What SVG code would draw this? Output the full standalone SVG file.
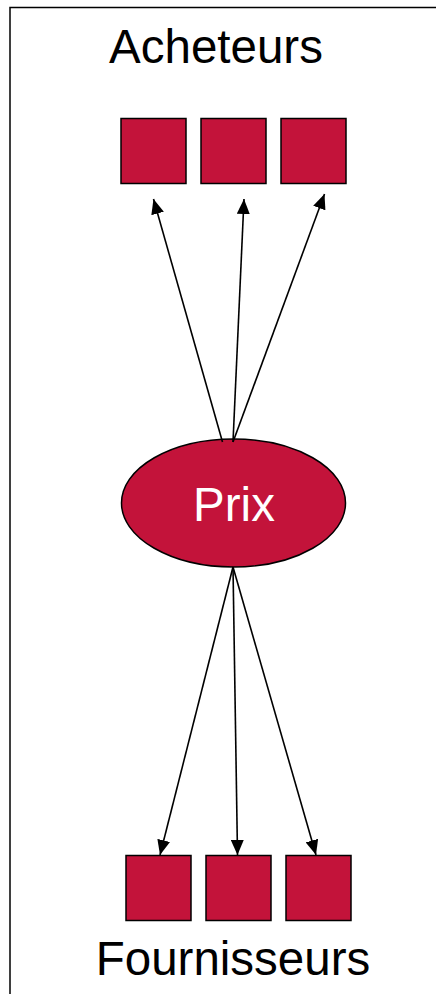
<svg xmlns="http://www.w3.org/2000/svg" width="436" height="994" viewBox="0 0 436 994">
<defs>
<style>
.box{fill:#C3133A;stroke:#000;stroke-width:1.5}
.lbl{font-family:"Liberation Sans",Arial,sans-serif;font-size:47.5px;text-anchor:middle}
.edge{stroke:#000;stroke-width:1.6;fill:none;marker-end:url(#ah)}
</style>
<marker id="ah" viewBox="0 0 15 13" refX="15" refY="6.5" markerWidth="15" markerHeight="13" markerUnits="userSpaceOnUse" orient="auto">
<path d="M0,0 L15,6.5 L0,13 Z" fill="#000"/>
</marker>
</defs>
<rect width="436" height="994" fill="#fff"/>
<g id="frame">
<path d="M10,994 V7.5 H436" fill="none" stroke="#000" stroke-width="1.5"/>
</g>
<g id="acheteurs-label"><text class="lbl" x="216" y="63">Acheteurs</text></g>
<g id="a1"><rect class="box" x="121" y="118.5" width="65" height="65"/></g>
<g id="a2"><rect class="box" x="201" y="118.5" width="65" height="65"/></g>
<g id="a3"><rect class="box" x="281" y="118.5" width="65" height="65"/></g>
<g id="prix">
<ellipse class="box" cx="233.5" cy="503" rx="112" ry="64"/>
<text class="lbl" x="234" y="521" fill="#fff">Prix</text>
</g>
<g id="f1"><rect class="box" x="126" y="855.5" width="65" height="65"/></g>
<g id="f2"><rect class="box" x="206" y="855.5" width="65" height="65"/></g>
<g id="f3"><rect class="box" x="286" y="855.5" width="65" height="65"/></g>
<g id="fournisseurs-label"><text class="lbl" x="233" y="975">Fournisseurs</text></g>
<g id="connectors">
<line class="edge" x1="222.5" y1="442" x2="153.5" y2="199"/>
<line class="edge" x1="233" y1="442" x2="244" y2="199"/>
<line class="edge" x1="233" y1="442" x2="324.5" y2="194"/>
<line class="edge" x1="233" y1="567" x2="160" y2="855"/>
<line class="edge" x1="233" y1="567" x2="237.5" y2="855"/>
<line class="edge" x1="233" y1="567" x2="316" y2="855"/>
</g>
</svg>
